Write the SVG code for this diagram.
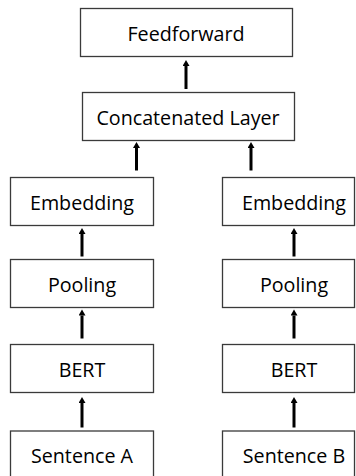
<svg xmlns="http://www.w3.org/2000/svg" width="356" height="476" viewBox="0 0 356 476">
<style>
rect{fill:#fff;stroke:#3a3a3a;stroke-width:1.3}
text{font-family:"Open Sans","Liberation Sans",Arial,sans-serif;font-size:19.7px;fill:#000;text-anchor:middle}
.c line{stroke:#000;stroke-width:3}
</style>
<defs>
<marker id="ah" markerUnits="userSpaceOnUse" markerWidth="8" markerHeight="8" refX="0" refY="3.5" orient="auto">
<path d="M0,0 L6,3.5 L0,7 z" fill="#000"/>
</marker>
</defs>
<rect x="0" y="0" width="356" height="476" style="stroke:none"/>
<g id="feedforward"><rect x="80.5" y="8.5" width="212" height="48"/><text x="186" y="40.5">Feedforward</text></g>
<g id="concat"><rect x="82.5" y="92.5" width="212" height="48"/><text x="188" y="124.5">Concatenated Layer</text></g>
<g id="embA"><rect x="10.5" y="177.5" width="143" height="48"/><text x="82" y="210">Embedding</text></g>
<g id="embB"><rect x="222.5" y="177.5" width="132" height="48"/><text x="294" y="210">Embedding</text></g>
<g id="poolA"><rect x="10.5" y="259.5" width="143" height="48"/><text x="82" y="292">Pooling</text></g>
<g id="poolB"><rect x="222.5" y="259.5" width="132" height="48"/><text x="294" y="292">Pooling</text></g>
<g id="bertA"><rect x="10.5" y="344.5" width="143" height="48"/><text x="82" y="377">BERT</text></g>
<g id="bertB"><rect x="222.5" y="344.5" width="132" height="48"/><text x="294" y="377">BERT</text></g>
<g id="sentA"><rect x="10.5" y="431" width="143" height="60"/><text x="82" y="463">Sentence A</text></g>
<g id="sentB"><rect x="222.5" y="431" width="132" height="60"/><text x="294" y="463">Sentence B</text></g>
<g class="c" id="connectors">
<line x1="186" y1="89" x2="186" y2="66" marker-end="url(#ah)"/>
<line x1="136.5" y1="170.5" x2="136.5" y2="148" marker-end="url(#ah)"/>
<line x1="251" y1="170.5" x2="251" y2="148" marker-end="url(#ah)"/>
<line x1="82" y1="256.5" x2="82" y2="234" marker-end="url(#ah)"/>
<line x1="294" y1="256.5" x2="294" y2="234" marker-end="url(#ah)"/>
<line x1="82" y1="338.5" x2="82" y2="315.5" marker-end="url(#ah)"/>
<line x1="294" y1="338.5" x2="294" y2="315.5" marker-end="url(#ah)"/>
<line x1="82" y1="427.5" x2="82" y2="403" marker-end="url(#ah)"/>
<line x1="294" y1="427.5" x2="294" y2="403" marker-end="url(#ah)"/>
</g>
</svg>
